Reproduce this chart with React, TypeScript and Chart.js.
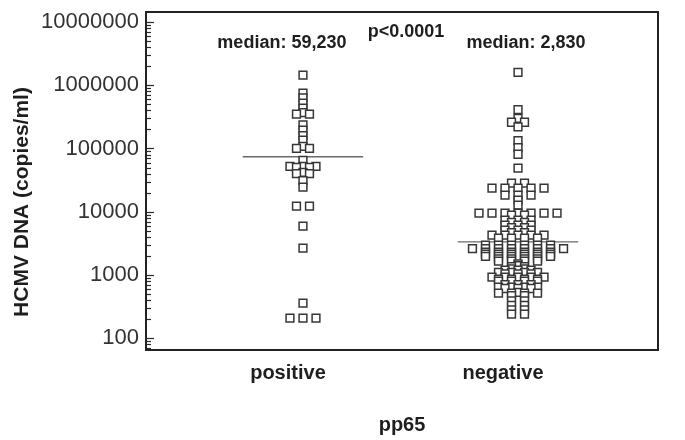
import React, { useEffect, useRef } from 'react';
import { Chart, registerables } from 'chart.js';

Chart.register(...registerables);

// ---- data ----
const categories = ['positive', 'negative'];

// HCMV DNA (copies/ml), one entry per patient; equal values sit side by side
const positiveValues = [
  1450000, 750000, 630000, 520000, 435000, 370000, 350000, 350000,
  235000, 195000, 160000, 135000, 108000, 100000, 100000,
  65000, 52000, 52000, 52000, 50000, 50000, 42000, 40000, 40000,
  31000, 24500, 12300, 12300, 5900, 2650, 358, 207, 207, 207,
];

const negativeValues = [
  1600000, 410000, 300000, 260000, 260000, 220000, 133000, 103000, 81000, 49000,
  28400, 28400,
  23600, 23600, 23600, 23600, 23600,
  18300, 18300, 18300,
  15300, 12700,
  9500, 9500, 9500, 9500, 9500, 9500, 9500,
  8800, 8800,
  7360, 7360, 7360,
  6800, 6800,
  6140, 6140, 6140,
  5600, 5600,
  5120, 5120, 5120,
  4650, 4650,
  4260, 4260, 4260, 4260, 4260,
  3820, 3820, 3820, 3820,
  2960, 2960, 2960, 2960, 2960, 2960,
  2600, 2600, 2600, 2600, 2600, 2600, 2600, 2600,
  2300, 2300, 2300, 2300, 2300, 2300,
  2130, 2130, 2130, 2130, 2130, 2130,
  1960, 1960, 1960, 1960, 1960, 1960,
  1800, 1800, 1800, 1800,
  1650, 1650, 1650, 1650,
  1500, 1400, 1350, 1350, 1250, 1250,
  1190, 1190, 1190,
  1100, 1100, 1100, 1100,
  1040, 1040, 1040,
  920, 920, 920, 920, 920,
  860, 860, 860, 860,
  800, 800, 800, 800,
  700, 700, 700,
  640, 640, 640, 640,
  610, 610, 610,
  530, 515, 515, 515, 515,
  470, 470, 390, 390, 330, 330, 280, 280, 240, 240,
];

// level at which the median bars are drawn in the figure
const medianLevels = [74000, 3340];
const medianLabels = ['median: 59,230', 'median: 2,830'];
const medianLabelLevel = 4660000;
const pValueLabel = 'p<0.0001';
const pValueLevel = 6950000;
const yTickValues = [100, 1000, 10000, 100000, 1000000, 10000000];
const xTitle = 'pp65';
const yTitle = 'HCMV DNA (copies/ml)';

// ---- layout helpers ----
const STEP = 0.0605; // horizontal spacing of tied points (x units)
const MEDIAN_HALF = 0.28;
const FONT = '"Liberation Sans", Arial, Helvetica, sans-serif';

function spread(values: number[], center: number) {
  const counts = new Map<number, number>();
  values.forEach((v) => counts.set(v, (counts.get(v) || 0) + 1));
  const pts: { x: number; y: number }[] = [];
  counts.forEach((n, v) => {
    for (let i = 0; i < n; i++) pts.push({ x: center + (i - (n - 1) / 2) * STEP, y: v });
  });
  return pts;
}

const decorPlugin = {
  id: 'decor',
  afterDraw(chart: any) {
    const { ctx, chartArea, scales } = chart;
    const ys = scales.y;
    const xs = scales.x;
    ctx.save();
    // minor / major ticks inside the frame
    ctx.strokeStyle = '#2a2a2a';
    ctx.lineWidth = 1.2;
    for (let d = 1; d <= 7; d++) {
      for (let k = 1; k <= 9; k++) {
        const v = k * Math.pow(10, d);
        if (v < ys.min || v > ys.max) continue;
        const py = Math.round(ys.getPixelForValue(v)) + 0.5;
        const len = k === 1 ? 8 : 5;
        ctx.beginPath();
        ctx.moveTo(chartArea.left, py);
        ctx.lineTo(chartArea.left + len, py);
        ctx.stroke();
      }
    }
    // frame
    ctx.strokeStyle = '#222';
    ctx.lineWidth = 2;
    ctx.strokeRect(chartArea.left, chartArea.top, chartArea.right - chartArea.left, chartArea.bottom - chartArea.top);

    // annotations
    ctx.fillStyle = '#1e1e1e';
    ctx.textAlign = 'center';
    ctx.textBaseline = 'middle';
    ctx.font = `bold 18px ${FONT}`;
    ctx.fillText(medianLabels[0], xs.getPixelForValue(1 - 0.098), ys.getPixelForValue(medianLabelLevel));
    ctx.fillText(medianLabels[1], xs.getPixelForValue(2 + 0.037), ys.getPixelForValue(medianLabelLevel));
    ctx.fillText(pValueLabel, xs.getPixelForValue(1.479), ys.getPixelForValue(pValueLevel));

    // y axis title
    ctx.font = `bold 21px ${FONT}`;
    ctx.translate(22, 202);
    ctx.rotate(-Math.PI / 2);
    ctx.fillText(yTitle, 0, 0);
    ctx.restore();
  },
};

export default function App() {
  const ref = useRef<HTMLCanvasElement | null>(null);

  useEffect(() => {
    if (!ref.current) return;
    const pointStyle = {
      pointStyle: 'rect' as const,
      pointRadius: 5.5,
      pointBackgroundColor: '#ffffff',
      pointBorderColor: '#363636',
      pointBorderWidth: 1.5,
      showLine: false,
      order: 0,
    };
    const chart = new Chart(ref.current, {
      type: 'scatter',
      data: {
        datasets: [
          { label: categories[0], data: spread(positiveValues, 1), ...pointStyle },
          { label: categories[1], data: spread(negativeValues, 2), ...pointStyle },
          ...medianLevels.map((m, i) => ({
            label: 'median ' + categories[i],
            data: [
              { x: i + 1 - MEDIAN_HALF, y: m },
              { x: i + 1 + MEDIAN_HALF, y: m },
            ],
            showLine: true,
            borderColor: '#6a6a6a',
            borderWidth: 1.3,
            pointRadius: 0,
            order: 1,
          })),
        ],
      },
      options: {
        responsive: false,
        animation: false,
        devicePixelRatio: 1,
        layout: { padding: { left: 0, right: 27, top: 12, bottom: 0 } },
        plugins: { legend: { display: false }, tooltip: { enabled: false } },
        scales: {
          x: {
            type: 'linear',
            min: 0.27,
            max: 2.651,
            afterBuildTicks: (s: any) => {
              s.ticks = categories.map((_, i) => ({ value: i + 1 }));
            },
            afterFit: (s: any) => {
              s.height = 90;
              s.paddingLeft = 0;
              s.paddingRight = 0;
            },
            ticks: {
              callback: (v: any) => categories[Math.round(v) - 1] ?? '',
              font: { family: FONT, size: 20, weight: 'bold' },
              color: '#1e1e1e',
              padding: 11,
              labelOffset: -15,
              autoSkip: false,
              maxRotation: 0,
            },
            grid: { display: false, drawTicks: false },
            border: { display: false },
            title: {
              display: true,
              text: xTitle,
              font: { family: FONT, size: 20, weight: 'bold' },
              color: '#1e1e1e',
              padding: { top: 0, bottom: 3 },
            },
          },
          y: {
            type: 'logarithmic',
            min: 65,
            max: 14400000,
            afterBuildTicks: (s: any) => {
              s.ticks = yTickValues.map((v) => ({ value: v }));
            },
            afterFit: (s: any) => {
              s.width = 146;
              s.paddingTop = 0;
              s.paddingBottom = 0;
            },
            ticks: {
              callback: (v: any) => String(v),
              font: { family: FONT, size: 22 },
              color: '#333',
              padding: 7,
              autoSkip: false,
            },
            grid: { display: false, drawTicks: false },
            border: { display: false },
          },
        },
      },
      plugins: [decorPlugin],
    } as any);
    return () => chart.destroy();
  }, []);

  return (
    <div style={{ position: 'fixed', left: 0, top: 0, width: 685, height: 440, background: '#fff' }}>
      <canvas ref={ref} width={685} height={440} style={{ width: 685, height: 440 }} />
    </div>
  );
}
